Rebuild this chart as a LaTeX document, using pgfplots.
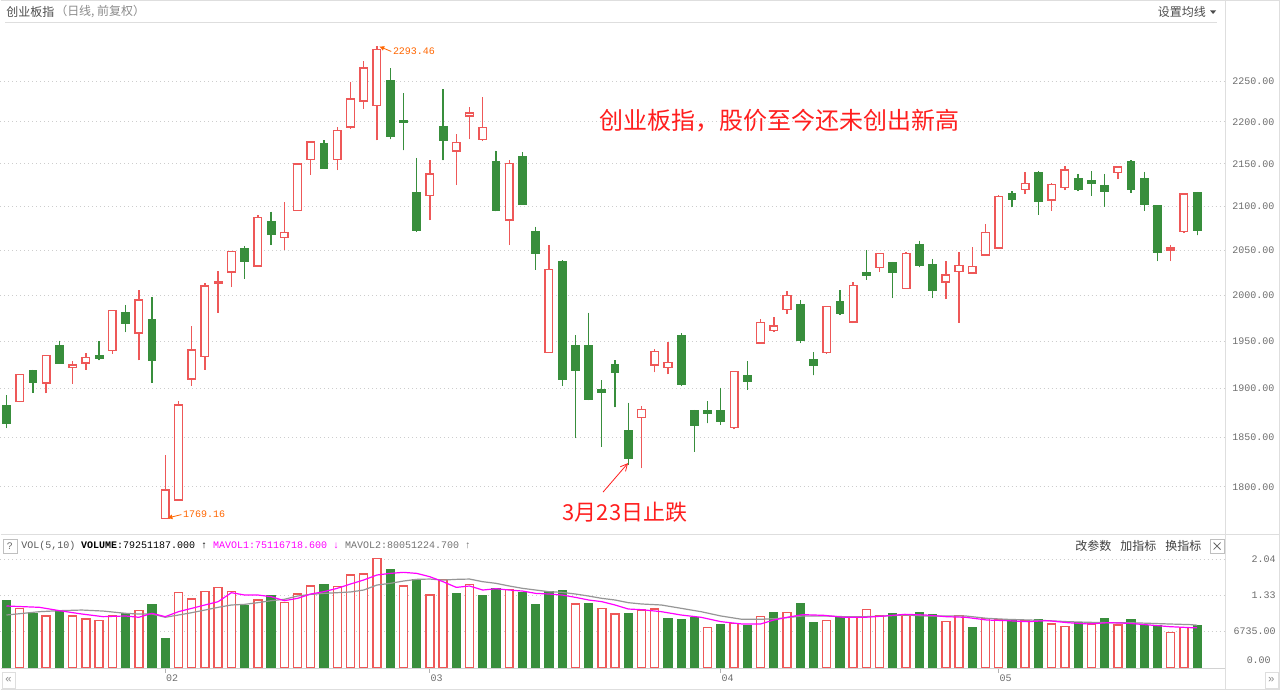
\documentclass[border=0pt]{standalone}
\usepackage{fontspec}
\setmainfont{Liberation Sans}
\newfontfamily\cjk{Noto Sans CJK SC}
\newfontfamily\mono{Liberation Mono}
\usepackage{pgfplots}
\usepackage{pgfplotstable}
\pgfplotsset{compat=1.18}
\usetikzlibrary{arrows.meta}

\definecolor{upred}{RGB}{238,88,88}
\definecolor{dngreen}{RGB}{56,142,60}
\definecolor{annred}{RGB}{255,30,30}
\definecolor{lblorange}{RGB}{255,102,0}
\definecolor{gridc}{RGB}{205,205,205}
\definecolor{framec}{RGB}{222,222,222}
\definecolor{axtext}{RGB}{110,110,110}
\definecolor{ma5}{RGB}{255,0,255}
\definecolor{ma10}{RGB}{150,150,150}

% k  low  body-low  body-high  high  up(1=close>open)
\pgfplotstableread{
k l bl bh h up
0 1859 1864 1882 1893 0
1 1886 1886.5 1914.5 1915 1
2 1895.5 1906 1919 1920 0
3 1895 1906 1935 1936 1
4 1926 1927 1945 1951 0
5 1905 1922 1925 1929 1
6 1919.5 1927 1933 1938 1
7 1930 1932 1935 1950 0
8 1937 1940.5 1984 1984.5 1
9 1960 1970 1981 1989.5 0
10 1930 1959 1995 2006 1
11 1906 1930 1974 1998.5 0
12 1769.16 1769.16 1797 1832 1
13 1787 1787 1883 1887 1
14 1903 1910 1941 1967 1
15 1919.5 1934 2010 2014 1
16 1981 2013.5 2015 2027 1
17 2009 2025.5 2048.5 2049 1
18 2018 2037 2052 2055 0
19 2032 2032.5 2087.5 2090 1
20 2056 2068 2082.5 2094 0
21 2050 2064.5 2070 2105.5 1
22 2095 2095.5 2149.5 2150 1
23 2137 2155 2176 2177 1
24 2144 2145 2174 2178 0
25 2142.5 2155 2189.5 2194 1
26 2192 2194 2228 2249 1
27 2216 2225.5 2266 2274.5 1
28 2178 2220 2289.5 2293.46 1
29 2179 2183 2251 2266 0
30 2166 2199.5 2202 2235 0
31 2071 2072.5 2116 2157 0
32 2084.5 2112.5 2138 2155 1
33 2154 2177.5 2194 2240 0
34 2125 2165 2175 2186 1
35 2179 2207 2211 2218 1
36 2177 2179 2193.5 2230 1
37 2094.5 2095.5 2153 2165.5 0
38 2056 2084.5 2150.5 2154 1
39 2102 2103 2159 2164 0
40 2028 2047 2071.5 2077 0
41 1938 1938.5 2028.5 2056.5 1
42 1903 1909.5 2037 2039 0
43 1849 1919.5 1945 1956.5 0
44 1888 1889 1945 1981.5 0
45 1840 1896.5 1899.5 1909 0
46 1880.5 1917 1925 1930 0
47 1822 1828 1856.5 1885.5 0
48 1818.5 1870 1878 1882 1
49 1917 1925 1939 1942 1
50 1915 1922 1927.5 1949.5 1
51 1903 1904 1956.5 1959 0
52 1835 1862.5 1877 1878 0
53 1864 1874.5 1877.5 1887 0
54 1863 1866.5 1877 1901 0
55 1858 1860 1918 1918.5 1
56 1899 1908 1913.5 1929 0
57 1947.5 1948.5 1970.5 1974 1
58 1960 1962 1967 1976 1
59 1979.5 1984.5 2000 2005 1
60 1948.5 1951 1990 1994.5 0
61 1914 1924.5 1931 1938.5 0
62 1937 1938.5 1988 1988.5 1
63 1979 1980 1993 2005.5 0
64 1970 1971 2011 2015 1
65 2017 2022.5 2025 2050 0
66 2026 2030.5 2046.5 2047.5 1
67 1997 2025 2036 2037 0
68 2007 2007.5 2046.5 2048 1
69 2031 2033 2056 2061 0
70 1997 2005 2033.5 2040.5 0
71 1996 2014.5 2022.5 2037.5 1
72 1970.5 2026 2033 2048.5 1
73 2023.5 2024.5 2032 2054 1
74 2044 2045 2070 2079.5 1
75 2052 2052.5 2111.5 2113 1
76 2099 2108.5 2115 2117.5 0
77 2114.5 2119.5 2126.5 2140.5 1
78 2090.5 2105.5 2140 2141 0
79 2095 2107.5 2125.5 2127 1
80 2119 2122 2142.5 2147.5 1
81 2118 2120 2132 2138 0
82 2112.5 2126.5 2130 2141 0
83 2099.5 2117 2124.5 2138 0
84 2132 2140 2146 2147.5 1
85 2116 2120 2152 2154 0
86 2095 2102.5 2132 2140.5 0
87 2038 2048 2101 2101 0
88 2038 2050.5 2052.5 2056 1
89 2069.5 2071.5 2114.5 2115.5 1
90 2067 2073 2116 2117 0
}\candles

% volume (x 1e8), up = close >= previous close
\pgfplotstableread{
k v up
0 1.262 0
1 1.118 1
2 1.024 0
3 0.974 1
4 1.074 0
5 0.974 1
6 0.917 1
7 0.886 1
8 0.974 1
9 1.011 0
10 1.074 1
11 1.181 0
12 0.553 0
13 1.413 1
14 1.294 1
15 1.432 1
16 1.514 1
17 1.432 1
18 1.162 0
19 1.275 1
20 1.350 0
21 1.225 1
22 1.388 1
23 1.539 1
24 1.570 0
25 1.526 1
26 1.746 1
27 1.765 1
28 2.060 1
29 1.840 0
30 1.539 1
31 1.664 0
32 1.369 1
33 1.664 1
34 1.400 0
35 1.570 1
36 1.350 0
37 1.495 0
38 1.476 1
39 1.413 0
40 1.181 0
41 1.426 0
42 1.445 0
43 1.200 1
44 1.200 0
45 1.118 1
46 1.011 1
47 1.011 0
48 1.087 1
49 1.105 1
50 0.930 0
51 0.911 0
52 0.949 0
53 0.760 1
54 0.817 0
55 0.836 1
56 0.792 0
57 0.961 1
58 1.043 0
59 1.043 1
60 1.213 0
61 0.848 0
62 0.886 1
63 0.949 0
64 0.949 1
65 1.099 1
66 0.974 1
67 1.024 0
68 0.986 1
69 1.043 0
70 0.992 0
71 0.867 1
72 0.980 1
73 0.760 0
74 0.930 1
75 0.898 1
76 0.898 0
77 0.886 1
78 0.911 0
79 0.823 1
80 0.773 1
81 0.848 0
82 0.823 1
83 0.930 0
84 0.804 1
85 0.898 0
86 0.798 0
87 0.798 0
88 0.660 1
89 0.760 1
90 0.7925 0
}\vols

\pgfplotstableread{
k v
0 1.162
2.5 1.137
4 1.074
5.7 1.011
7.3 0.961
9 0.974
10 0.949
11 1.024
12 0.961
13 1.055
14 1.118
15 1.181
16 1.244
17 1.413
18 1.369
19 1.369
20 1.338
21 1.262
22 1.306
23 1.388
24 1.432
25 1.495
26 1.576
27 1.652
28 1.746
29 1.777
30 1.796
31 1.777
32 1.714
33 1.620
34 1.513
35 1.539
36 1.463
37 1.488
38 1.463
39 1.444
40 1.400
41 1.388
42 1.369
43 1.325
44 1.275
45 1.244
46 1.181
47 1.105
48 1.093
49.5 1.055
51 0.992
52.5 0.949
54 0.867
55.6 0.823
57 0.823
58 0.898
59 0.949
60.2 0.999
61.8 0.986
63.3 0.949
64.9 0.949
66.4 0.974
67.9 1.005
69.5 0.992
71 0.961
72.5 0.949
74.1 0.898
75.6 0.886
77.2 0.867
78.7 0.886
80.2 0.848
81.8 0.823
83.3 0.848
84.8 0.836
86.4 0.804
87.9 0.773
89.5 0.754
90 0.751
}\mavA

\pgfplotstableread{
k v
0 0.992
2.5 1.055
4 1.074
5.7 1.086
7.3 1.067
9 1.024
10 1.011
11 1.011
12 0.949
13 0.992
14 1.036
15 1.086
16 1.137
17 1.181
18 1.193
19 1.225
20 1.262
21 1.288
22 1.350
23 1.381
24 1.400
25 1.413
26 1.426
27 1.463
28 1.557
29 1.589
30 1.632
31 1.664
32 1.670
33 1.651
34 1.664
35 1.670
36 1.620
37 1.589
38 1.539
39 1.495
40 1.463
41 1.432
42 1.419
43 1.388
44 1.350
45 1.306
46 1.275
47 1.225
48 1.200
49.5 1.181
51 1.118
52.5 1.055
54 0.974
55.6 0.911
57 0.911
58.5 0.930
60.2 0.974
61.8 0.974
63.3 0.961
64.9 0.961
66.4 0.974
67.9 0.992
69.5 0.974
71 0.974
72.5 0.974
74.1 0.930
75.6 0.911
77.2 0.899
78.7 0.886
80.2 0.867
81.8 0.855
83.3 0.848
84.8 0.848
86.4 0.836
87.9 0.823
89.5 0.811
90 0.8005
}\mavB

% whole picture drawn at 1px = 0.25pt
\pgfplotsset{
  upcandle/.style={draw=upred, fill=white, line width=0.36pt, solid},
  downcandle/.style={draw=dngreen, fill=dngreen, line width=0.3pt, solid},
  gridsty/.style={draw=gridc, line width=0.25pt, dash pattern=on 0.25pt off 0.75pt},
}

\begin{document}
\begin{tikzpicture}[x=0.25pt,y=0.25pt]
\fill[white] (0,0) rectangle (1280,690);

% ---------- price panel ----------
\begin{axis}[
  at={(0pt,39.25pt)}, anchor=south west, scale only axis,
  width=306.25pt, height=127.5pt,
  xmin=-0.453, xmax=92.07,
  ymode=log, ymin=1755.1, ymax=2322.7,
  axis line style={draw=none},
  xtick=\empty,
  ytick={1800,1850,1900,1950,2000,2050,2100,2150,2200,2250},
  yticklabels={1800.00,1850.00,1900.00,1950.00,2000.00,2050.00,2100.00,2150.00,2200.00,2250.00},
  yticklabel pos=right, ytick pos=right,
  major tick length=0pt,
  yticklabel style={font=\mono\fontsize{2.5}{2.5}\selectfont, color=axtext, anchor=west, inner sep=0pt, xshift=1.75pt},
  ymajorgrids, grid style={gridsty},
  minor y tick num=0,
]
\pgfplotstablegetrowsof{\candles}
\pgfmathtruncatemacro\Nc{\pgfplotsretval-1}
\pgfplotsforeachungrouped \i in {0,...,\Nc}{%
  \pgfplotstablegetelem{\i}{k}\of\candles \let\cK\pgfplotsretval
  \pgfplotstablegetelem{\i}{l}\of\candles \let\cL\pgfplotsretval
  \pgfplotstablegetelem{\i}{bl}\of\candles \let\cBL\pgfplotsretval
  \pgfplotstablegetelem{\i}{bh}\of\candles \let\cBH\pgfplotsretval
  \pgfplotstablegetelem{\i}{h}\of\candles \let\cH\pgfplotsretval
  \pgfplotstablegetelem{\i}{up}\of\candles \pgfmathtruncatemacro\cU{\pgfplotsretval}%
  \pgfmathsetmacro\xa{\cK-0.29}%
  \pgfmathsetmacro\xb{\cK+0.29}%
  \ifnum\cU=1 \def\cS{upcandle}\else\def\cS{downcandle}\fi
  \edef\doit{\noexpand\addplot[\cS] coordinates {(\cK,\cL) (\cK,\cH)};
    \noexpand\addplot[\cS] coordinates {(\xa,\cBL) (\xb,\cBL) (\xb,\cBH) (\xa,\cBH)} -- cycle;}%
  \doit
}
\end{axis}

% ---------- volume panel ----------
\begin{axis}[
  at={(0pt,5.575pt)}, anchor=south west, scale only axis,
  width=306.25pt, height=28.175pt,
  xmin=-0.453, xmax=92.07,
  ymin=0, ymax=2.122,
  axis line style={draw=none},
  xtick={12,32,54,75}, xticklabels={02,03,04,05},
  xtick pos=bottom, ytick pos=right,
  tick align=outside,
  xtick style={draw=gray!60, line width=0.25pt},
  ytick style={draw=none},
  x tick label style={font=\mono\fontsize{2.5}{2.5}\selectfont, color=axtext, anchor=north west, inner sep=0pt, xshift=0pt, yshift=-0.25pt},
  major tick length=1.25pt,
  ytick={0.68,1.36,2.04},
  yticklabels={6735.00,1.33,2.04},
  yticklabel pos=right,
  y tick label style={font=\mono\fontsize{2.5}{2.5}\selectfont, color=axtext, anchor=east, inner sep=0pt, xshift=11.75pt},
  ymajorgrids, grid style={gridsty},
]
\addplot[ybar, bar width=2pt, bar shift=0pt, draw=upred, fill=white, line width=0.36pt,
  restrict expr to domain={\thisrow{up}}{0.5:1.5}] table[x=k, y=v] {\vols};
\addplot[ybar, bar width=2pt, bar shift=0pt, draw=dngreen, fill=dngreen, line width=0.3pt,
  restrict expr to domain={\thisrow{up}}{-0.5:0.5}] table[x=k, y=v] {\vols};
\addplot[ma10, line width=0.3pt] table[x=k, y=v] {\mavB};
\addplot[ma5, line width=0.3pt] table[x=k, y=v] {\mavA};
\end{axis}

% ---------- frame ----------
\draw[framec, line width=0.25pt] (0,689.5) -- (1280,689.5);
\draw[framec, line width=0.25pt] (5,668) -- (1217,668);
\draw[framec, line width=0.25pt] (1225.5,0) -- (1225.5,690);
\draw[framec, line width=0.25pt] (1279.5,0) -- (1279.5,690);
\draw[framec, line width=0.25pt] (0,156) -- (1280,156);
\draw[gray!35, line width=0.25pt] (0,21.5) -- (1225.5,21.5);
\draw[framec, line width=0.25pt] (0,0.5) -- (1280,0.5);

% ---------- texts ----------
\node[anchor=west, inner sep=0pt, text=black!70] at (5,678.5) {\cjk\fontsize{3}{3}\selectfont 创业板指};
\node[anchor=west, inner sep=0pt, text=black!45] at (54,678.5) {\cjk\fontsize{3}{3}\selectfont （日线, 前复权）};
\node[anchor=east, inner sep=0pt, text=black!70] at (1207,678.5) {\cjk\fontsize{3}{3}\selectfont 设置均线};
\fill[black!70] (1210.5,680) -- (1216.5,680) -- (1213.5,676.5) -- cycle;

\node[anchor=west, inner sep=0pt, text=annred] at (599,570) {\cjk\fontsize{6}{6}\selectfont 创业板指，股价至今还未创出新高};
\node[inner sep=0pt, text=annred] at (625,178) {\cjk\fontsize{5.5}{5.5}\selectfont 3月23日止跌};
\draw[annred, line width=0.2pt, -{Straight Barb[length=1.75pt,width=1.75pt]}] (603,198) -- (628,227);

\node[anchor=west, inner sep=0pt, text=lblorange] at (392,639) {\mono\fontsize{2.5}{2.5}\selectfont 2293.46};
\draw[lblorange, line width=0.2pt, -{Latex[length=1.25pt,width=1.25pt]}] (391,639) -- (379,644);
\node[anchor=west, inner sep=0pt, text=lblorange] at (182,175.5) {\mono\fontsize{2.5}{2.5}\selectfont 1769.16};
\draw[lblorange, line width=0.2pt, -{Latex[length=1.25pt,width=1.25pt]}] (181,175.5) -- (167,172);

% volume header
\draw[gray!50, line width=0.2pt] (2.5,137) rectangle (16.5,151);
\node[inner sep=0pt, text=black!60] at (9.5,144) {\mono\fontsize{2.5}{2.5}\selectfont ?};
\node[anchor=west, inner sep=0pt] at (20,144) {\mono\fontsize{2.5}{2.5}\selectfont \textcolor{black!65}{VOL(5,10)} \textcolor{black}{{\bfseries VOLUME}:79251187.000 ↑} \textcolor{ma5}{MAVOL1:75116718.600 ↓} \textcolor{black!55}{MAVOL2:80051224.700 ↑}};
\node[anchor=west, inner sep=0pt, text=black!75] at (1075,144) {\cjk\fontsize{3}{3}\selectfont 改参数\hspace{2.25pt}加指标\hspace{2.25pt}换指标};
\draw[gray!50, line width=0.2pt] (1210.5,137) rectangle (1224.5,151);
\draw[black!60, line width=0.2pt] (1214,140.5) -- (1221,147.5) (1214,147.5) -- (1221,140.5);
\node[anchor=east, inner sep=0pt, text=axtext] at (1272,30) {\mono\fontsize{2.5}{2.5}\selectfont 0.00};

% bottom nav
\draw[framec, line width=0.2pt] (1.5,2) rectangle (14.5,18);
\node[inner sep=0pt, text=black!45] at (8,10) {\mono\fontsize{2.75}{2.75}\selectfont «};
\draw[framec, line width=0.2pt] (1265.5,2) rectangle (1278.5,18);
\node[inner sep=0pt, text=black!45] at (1272,10) {\mono\fontsize{2.75}{2.75}\selectfont »};
\end{tikzpicture}
\end{document}
